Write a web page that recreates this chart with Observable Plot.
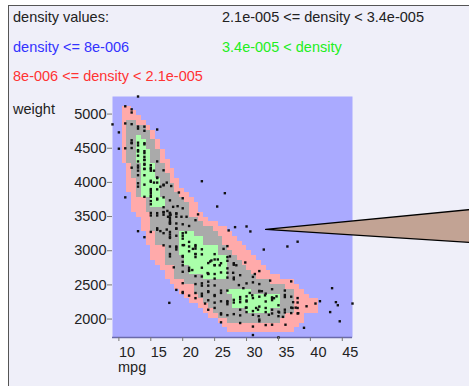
<!DOCTYPE html>
<html><head><meta charset="utf-8">
<script src="https://cdn.jsdelivr.net/npm/d3@7"></script>
<script src="https://cdn.jsdelivr.net/npm/@observablehq/plot@0.6"></script>
<style>
html,body{margin:0;padding:0;background:#fff;overflow:hidden;width:469px;height:386px;}
#panel{position:absolute;left:8px;top:5px;width:480px;height:400px;background:#efeff9;border-left:1px solid #555;border-top:1px solid #555;}
.t{position:absolute;font-family:"Liberation Sans",Arial,sans-serif;font-size:14.5px;white-space:nowrap;line-height:1;}
#chart{position:absolute;left:0;top:0;}
</style></head><body>
<div id="panel"></div>
<div id="chart"></div>
<div class="t" style="left:13px;top:9.7px;color:#222">density values:</div>
<div class="t" style="left:222px;top:9.7px;color:#222">2.1e-005 &lt;= density &lt; 3.4e-005</div>
<div class="t" style="left:13px;top:39.7px;color:#3333ff">density &lt;= 8e-006</div>
<div class="t" style="left:222px;top:39.7px;color:#22ee22">3.4e-005 &lt; density</div>
<div class="t" style="left:13px;top:68.7px;color:#ff3333">8e-006 &lt;= density &lt; 2.1e-005</div>
<div class="t" style="left:13px;top:101.7px;color:#222">weight</div>
<div class="t" style="left:118px;top:359.7px;color:#222">mpg</div>
<script>
// axis domains (data extent) and ticks
const xDomain = [9, 46.6];
const yDomain = [1613, 5140];
const xTicks = [10, 15, 20, 25, 30, 35, 40, 45];
const yTicks = [2000, 2500, 3000, 3500, 4000, 4500, 5000];

// density class grid: 50 x 50 cells, rows from top; "startCol:classes"
// 0 = density <= 8e-006, 1 = 8e-006..2.1e-005, 2 = 2.1e-005..3.4e-005, 3 = > 3.4e-005
const gridCols = 50, gridRows = 50;
const densityRows = [
  "", "",
  "2:11",
  "2:111",
  "2:1111",
  "2:12211",
  "2:122221",
  "2:1222221",
  "2:1223221",
  "2:12233221",
  "2:12233221",
  "2:122333221",
  "2:122333221",
  "2:1223332211",
  "3:122333221",
  "3:1223332211",
  "3:1223332221",
  "3:11233332211",
  "3:11233332221",
  "3:112333322211",
  "4:123333222211",
  "4:1112333222211",
  "4:11123332222211",
  "4:11122222222211",
  "5:11122222222111",
  "6:11222222222211",
  "6:1122222222222111",
  "6:112222222222222111",
  "7:112222233322222111",
  "7:1122222333332222111",
  "7:11222223333322221111",
  "8:11122233333333221111",
  "8:111222333333332221111",
  "8:1112222333333333221111",
  "9:1122223333333332221111",
  "10:1112223333333322221111",
  "11:1122233333333222221111",
  "11:112222223333322222211111",
  "12:11122222222222222222211111",
  "13:11112222222222222222222111",
  "14:11122222223333322222222211",
  "15:11122222223333333333222111",
  "16:111222222333333333322211111",
  "18:1122222333333333322211111",
  "19:112222222333332222211111",
  "20:11222222222222221111",
  "22:112222222222211111",
  "23:1111111111111111",
  "24:11111111111111",
  ""
];
const classColors = ["#aaaaff", "#ffaaaa", "#aaaaaa", "#aaffaa"];

// cars (mpg, weight)
const cars = [
[9,4732],[10,4615],[10,4376],[11,4997],[11,4746],[11,4382],[11,3664],
[12,4464],[12,4735],[12,4952],[12,4499],[12,4456],[12,4098],[12,4906],[12,4386],
[13,5140],[13,4354],[13,4274],[13,4425],[13,4129],[13,3821],[13,4670],[13,4055],[13,3870],[13,4100],[13,4700],[13,4464],[13,3169],[13,4190],[13,3988],[13,4335],
[14,4312],[14,4209],[14,4638],[14,4141],[14,4699],[14,4457],[14,4257],[14,4082],[14,4078],[14,3850],[14,4154],[14,3988],[14,4340],[14,4440],[14,3081],[14,4215],[14,3672],
[15,3693],[15,3436],[15,3761],[15,3563],[15,4096],[15,3892],[15,3158],[15,4082],[15,3672],[15,4135],[15,3730],[15,3785],[15,3907],[15,3399],[15,3609],[15,4054],[15.5,3880],[15.5,4054],
[16,4657],[16,3433],[16,3211],[16,4190],[16,3880],[16,3955],[16,3946],[16,3632],[16,3399],[16,3781],[16,3190],[16,3645],[16.5,3820],[16.5,3170],
[17,3449],[17,3445],[17,3850],[17,3664],[17,3140],[17,4060],[17,3840],[17,2962],[17,3520],[17,3410],[17.5,3193],[17.5,3880],[17.6,3465],[17.7,3380],
[18,3436],[18,3121],[18,3329],[18,3302],[18,3288],[18,2945],[18,3278],[18,3158],[18,3399],[18,3070],[18,3085],[18,3434],[18,2800],[18,3365],[18,2835],[18,3620],[18.1,3410],[18.2,3830],[18.5,3525],[18.6,2640],
[19,3102],[19,3282],[19,3425],[19,2930],[19,3381],[19,3430],[19,2901],[19,3205],[19,3210],[19,2945],[19,2310],[19.2,3535],[19.4,3735],[19.8,3380],
[17.9,2120],
[20,2264],[20,3504],[20,2408],[20,3139],[20,2807],[20,2795],[20,3102],[20,2279],[20,3270],[20,2965],[20,2720],[20,3651],[20,2670],[20,2575],[20,3060],[20.2,2965],[20.5,3150],[20.6,3380],
[21,2587],[21,2634],[21,2600],[21,3012],[21,2945],[21,3245],[21,2226],[21,2875],[21.5,2600],[21.6,2910],
[22,2833],[22,2511],[22,3330],[22,2264],[22,2395],[22,2835],[22,2945],[22,2189],[22,2965],[22,2790],[22,2914],[22.4,3415],
[23,2506],[23,2904],[23,2372],[23,2254],[23,2406],[23,2220],[23,2830],[23,2634],[23,3900],[23.5,2110],[23.9,2556],
[24,2430],[24,2372],[24,2158],[24,2278],[24,2019],[24,2290],[24,2545],[24,2702],[24,2542],[24.3,2725],[24.5,2740],
[25,2672],[25,2833],[25,2375],[25,2234],[25,2123],[25,2046],[25,2220],[25,2542],[25,2671],[25,2755],[25,2475],[25.4,3530],[25.5,2755],[25.8,2670],
[26,1835],[26,1950],[26,2565],[26,2265],[26,2143],[26,2700],[26,2300],[26,1967],[26.6,3725],[26.4,2910],
[27,2130],[27,2300],[27,2100],[27,2560],[27,2790],[27,2735],[27,2625],[27,1940],[27,2950],[27,2490],[27,2145],[27.2,3180],[27.4,2800],[27.9,2560],
[28,2125],[28,1955],[28,2700],[28,2465],[28,2490],[28.2,3228],[28,2164],[28,2678],[28.4,2670],[28.8,2380],
[29,2171],[29,1825],[29,1937],[29,2020],[29,2130],[29,2205],[29,2525],[29.5,2335],[29.8,2711],[29.9,2050],
[30,2155],[30,2051],[30,2140],[30,2215],[30,1985],[30,3238],[30,2405],[30.5,2265],[30.6,3165],[30.9,2230],
[31,1773],[31,2420],[31,2000],[31,1945],[31,2190],[31,2500],[31,1649],[31.3,2542],[31.5,2045],[31.8,2020],[31.9,1925],
[32,2065],[32,2290],[32,2585],[32,1850],[32,2290],[32,2395],[32,2295],[32,1875],[32,2210],[32.4,2290],[32.7,2900],[32.9,2230],
[33,2140],[33,1795],[33,2045],[33,2255],[33,1985],[33.5,1945],[33.7,2445],
[34,2020],[34,1965],[34,2320],[34,1800],[34,2160],[34,2200],[34,2190],[34.3,2188],[34.7,2215],
[35,1613],[35,1990],[35,2085],[35,1925],[35.1,1980],[35.7,1915],
[36,2020],[36,2235],[36,1980],[36,2300],[36,2205],[36.1,1800],[36.4,2945],
[37,2434],[37,2050],[37,1970],[37,2210],[37.2,2045],[37.3,2130],[37.7,2050],
[38,3015],[38,2045],[38,1965],[38,2190],[38,2125],[38.1,1968],
[39,1755],[39.4,2070],[40.8,2110],[41.5,2144],
[43.1,1985],[43.4,2335],[44,2130],[44.3,2085],[44.6,1850],[46.6,2110]
];
const mpg = cars.map(d => d[0]);
const weight = cars.map(d => d[1]);

// callout wedge (mpg, weight) - tip and far corners
const calloutMpg = [33, 80, 80, 33];
const calloutWeight = [3195, 3622, 2915, 3195];

const dxCell = (xDomain[1] - xDomain[0]) / gridCols;
const dyCell = (yDomain[1] - yDomain[0]) / gridRows;
const cells = [];
densityRows.forEach((row, j) => {
  if (!row) return;
  const [s, pat] = row.split(":");
  for (let k = 0; k < pat.length; k++) {
    const c = +pat[k];
    if (c > 0) cells.push({i: +s + k, j, c});
  }
});

const chart = Plot.plot({
  width: 469, height: 386,
  marginLeft: 112, marginRight: 117, marginTop: 96, marginBottom: 49,
  style: {fontFamily: "'Liberation Sans', Arial, sans-serif", fontSize: "14.5px", background: "transparent", overflow: "visible"},
  x: {domain: xDomain},
  y: {domain: yDomain},
  marks: [
    Plot.frame({fill: classColors[0], stroke: null}),
    Plot.rect(cells, {
      x1: d => xDomain[0] + d.i * dxCell,
      x2: d => xDomain[0] + (d.i + 1) * dxCell,
      y1: d => yDomain[1] - (d.j + 1) * dyCell,
      y2: d => yDomain[1] - d.j * dyCell,
      fill: d => classColors[d.c],
      shapeRendering: "crispEdges"
    }),
    Plot.ruleY([yDomain[0]], {stroke: "#6a6aaa", strokeWidth: 1.5}),
    Plot.dot(cars, {x: mpg, y: weight, symbol: "square", r: 1.35, fill: "#111", stroke: null}),
    Plot.line(calloutMpg.map((m, k) => k), {x: calloutMpg, y: calloutWeight, fill: "#c2a394", stroke: "#000", strokeWidth: 1.4}),
    Plot.axisX(xTicks, {tickSize: 4, tickPadding: 5, textAnchor: "start", tickFormat: "d", fill: "#222", stroke: "#777", label: null}),
    Plot.axisY(yTicks, {tickSize: 5, tickPadding: 1, dy: 8, tickFormat: "d", fill: "#222", stroke: "#777", label: null})
  ]
});
document.getElementById("chart").appendChild(chart);
</script>
</body></html>
